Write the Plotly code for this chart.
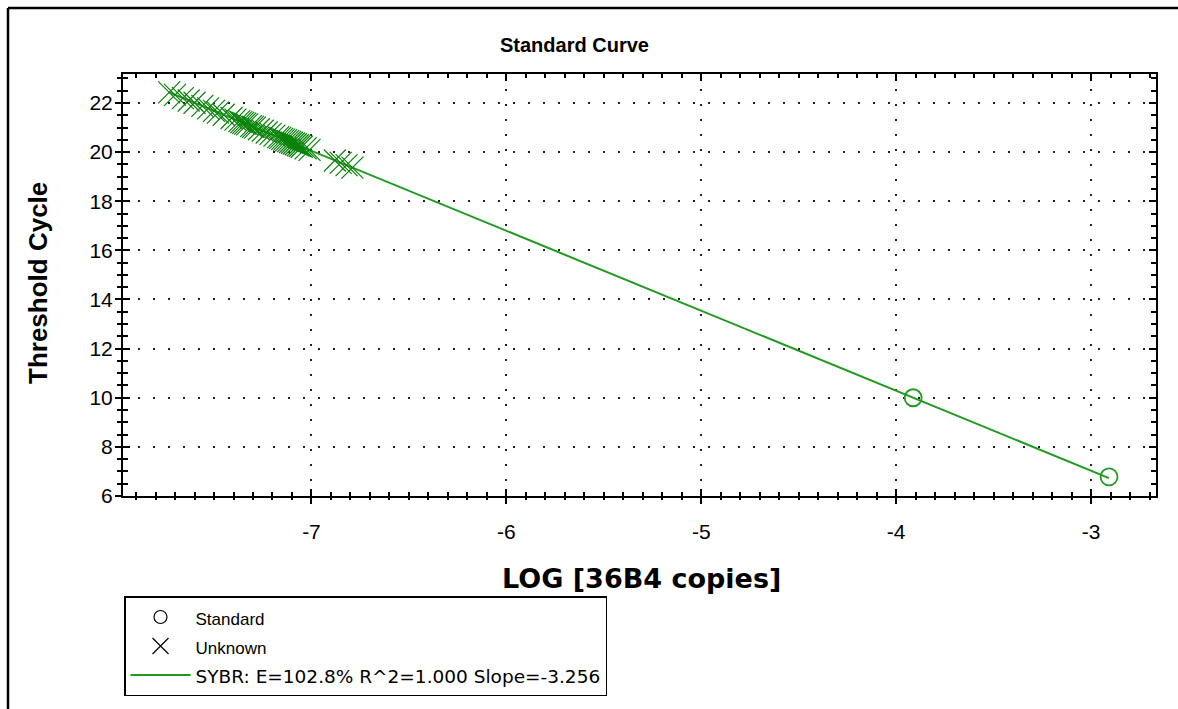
import plotly.graph_objects as go

# ---------------- data ----------------
std_logq = [-3.913, -2.908]
std_ct = [10.00, 6.78]

unk_logq = [-7.73, -7.70, -7.66, -7.63, -7.60, -7.56, -7.53, -7.50, -7.48, -7.45,
            -7.41, -7.39, -7.37, -7.36, -7.35, -7.34, -7.33, -7.31, -7.30, -7.29,
            -7.27, -7.25, -7.23, -7.21, -7.19, -7.17, -7.16, -7.15, -7.14, -7.13,
            -7.12, -7.11, -7.10, -7.09, -7.08, -7.07, -7.06, -7.05, -7.03, -7.01,
            -6.88, -6.85, -6.82, -6.79]
unk_ct = [22.43, 22.33, 22.20, 22.10, 22.01, 21.88, 21.78, 21.68, 21.61, 21.52,
          21.39, 21.32, 21.26, 21.22, 21.19, 21.16, 21.13, 21.06, 21.03, 21.00,
          20.93, 20.87, 20.80, 20.74, 20.67, 20.61, 20.58, 20.54, 20.51, 20.48,
          20.45, 20.41, 20.38, 20.35, 20.32, 20.28, 20.25, 20.22, 20.15, 20.09,
          19.66, 19.56, 19.47, 19.37]

fit_logq = [-7.73, -2.908]
fit_ct = [22.43, 6.73]

fit_label = "SYBR: E=102.8% R^2=1.000 Slope=-3.256"
x_range = [-7.967, -2.667]
y_range = [6.0, 23.18]
x_ticks = [-7, -6, -5, -4, -3]
x_ticktext = ["-7", "-6", "-5", "-4", "-3"]
y_ticks = [6, 8, 10, 12, 14, 16, 18, 20, 22]

# ---------------- layout geometry (pixels) ----------------
W, H = 1178, 709
L, R, T, B = 123, 22, 74, 213
pw, ph = W - L - R, H - T - B


def px(xp):
    return (xp - L) / pw


def py(yp):
    return (H - B - yp) / ph


GREEN_X = "#0a820a"
GREEN_L = "#1f9a1f"
TICKFONT = dict(family="Liberation Sans, Arial, sans-serif", size=21, color="black")


def leg_name(text, size, family="Liberation Sans"):
    return f"<span style='font-size:{size}px;font-family:{family}'>{text}</span>"


fig = go.Figure()

fig.add_trace(go.Scatter(
    x=fit_logq, y=fit_ct, mode="lines", name=fit_label,
    line=dict(color=GREEN_L, width=2), showlegend=False))
fig.add_trace(go.Scatter(
    x=unk_logq, y=unk_ct, mode="markers", name="Unknown", showlegend=False,
    marker=dict(symbol="x-thin", size=22, line=dict(color=GREEN_X, width=1.2))))
fig.add_trace(go.Scatter(
    x=std_logq, y=std_ct, mode="markers", name="Standard", showlegend=False,
    marker=dict(symbol="circle-open", size=17, color=GREEN_L, line=dict(color=GREEN_L, width=1.8))))

# legend-only entries (black symbols like reference)
fig.add_trace(go.Scatter(
    x=[None], y=[None], mode="markers", name=leg_name("Standard", 17),
    marker=dict(symbol="circle-open", size=13, color="black", line=dict(color="black", width=1.2))))
fig.add_trace(go.Scatter(
    x=[None], y=[None], mode="markers", name=leg_name("Unknown", 17),
    marker=dict(symbol="x-thin", size=17, line=dict(color="black", width=1.2))))
fig.add_trace(go.Scatter(
    x=[None], y=[None], mode="lines", name=leg_name(fit_label, 18.5, "DejaVu Sans"),
    line=dict(color=GREEN_L, width=2)))

common_axis = dict(showline=True, linecolor="black", linewidth=2, zeroline=False)

fig.update_layout(
    width=W, height=H,
    margin=dict(l=L, r=R, t=T, b=B),
    paper_bgcolor="white", plot_bgcolor="white",
    showlegend=True,
    xaxis=dict(
        range=x_range, tickmode="array", tickvals=x_ticks, ticktext=x_ticktext, **common_axis,
        mirror="ticks", ticks="inside", ticklen=7, tickwidth=2, tickcolor="black",
        minor=dict(ticks="inside", dtick=0.1, tick0=-7, ticklen=4, tickwidth=1.5,
                   tickcolor="black", showgrid=False),
        showgrid=True, gridcolor="#222222", gridwidth=2, griddash="2px,13px",
        tickfont=TICKFONT, ticklabelstandoff=16),
    xaxis2=dict(
        range=x_range, overlaying="x", side="bottom", anchor="y",
        tickmode="array", tickvals=x_ticks, showline=False, showgrid=False, zeroline=False,
        ticks="outside", ticklen=7, tickwidth=2, tickcolor="black",
        minor=dict(ticks="outside", dtick=0.1, tick0=-7, ticklen=3, tickwidth=1.5,
                   tickcolor="black", showgrid=False),
        showticklabels=False),
    yaxis=dict(
        range=y_range, tickmode="array", tickvals=y_ticks, **common_axis,
        mirror="ticks", ticks="inside", ticklen=7, tickwidth=2, tickcolor="black",
        minor=dict(ticks="inside", dtick=0.5, tick0=6, ticklen=5, tickwidth=2,
                   tickcolor="black", showgrid=False),
        showgrid=True, gridcolor="#222222", gridwidth=2, griddash="2px,13px",
        tickfont=TICKFONT, ticklabelstandoff=4),
    yaxis2=dict(
        range=y_range, overlaying="y", side="left", anchor="x",
        tickmode="array", tickvals=y_ticks, showline=False, showgrid=False, zeroline=False,
        ticks="outside", ticklen=7, tickwidth=2, tickcolor="black",
        minor=dict(ticks="outside", dtick=0.5, tick0=6, ticklen=5, tickwidth=2,
                   tickcolor="black", showgrid=False),
        showticklabels=False),
    legend=dict(
        x=px(124), y=py(596), xanchor="left", yanchor="top",
        bordercolor="black", borderwidth=1.5, bgcolor="white",
        font=dict(family="Liberation Sans, Arial, sans-serif", size=20, color="black"),
        itemsizing="trace", itemwidth=60, tracegroupgap=0),
    annotations=[
        dict(text="<b>Standard Curve</b>", x=px(574), y=py(45), xref="paper", yref="paper",
             showarrow=False, xanchor="center", yanchor="middle",
             font=dict(family="Liberation Sans, Arial, sans-serif", size=20, color="black")),
        dict(text="<b>Threshold Cycle</b>", x=px(38), y=py(283), xref="paper", yref="paper",
             showarrow=False, xanchor="center", yanchor="middle", textangle=-90,
             font=dict(family="Liberation Sans, Arial, sans-serif", size=26, color="black")),
        dict(text="<b>LOG [36B4 copies]</b>", x=px(641), y=py(578), xref="paper", yref="paper",
             showarrow=False, xanchor="center", yanchor="middle",
             font=dict(family="DejaVu Sans, Verdana, sans-serif", size=27, color="black")),
    ],
    shapes=[
        dict(type="line", xref="paper", yref="paper",
             x0=px(8), y0=py(8), x1=px(8), y1=py(709),
             line=dict(color="black", width=2.5), layer="above"),
        dict(type="line", xref="paper", yref="paper",
             x0=px(8), y0=py(8), x1=px(1178), y1=py(8),
             line=dict(color="black", width=2.5), layer="above"),
    ],
)

# attach overlay axes to a dummy trace so they render
fig.add_trace(go.Scatter(x=[None], y=[None], xaxis="x2", yaxis="y2", showlegend=False,
                         hoverinfo="skip"))

fig.write_html("out.html")
